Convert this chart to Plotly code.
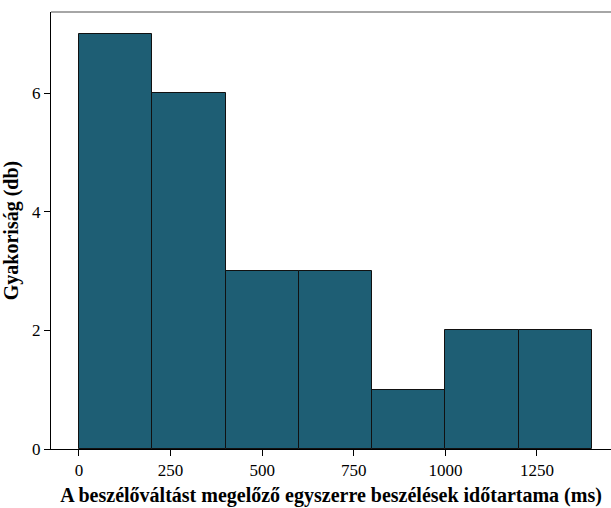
import plotly.graph_objects as go

bin_starts = [0, 200, 400, 600, 800, 1000, 1200]
bin_width = 200
counts = [7, 6, 3, 3, 1, 2, 2]
x_ticks = [0, 250, 500, 750, 1000, 1250]
y_ticks = [0, 2, 4, 6]

centers = [s + bin_width / 2 for s in bin_starts]

fig = go.Figure(go.Bar(
    x=centers, y=counts, width=[bin_width] * len(counts),
    marker=dict(color="#1e5e74", line=dict(color="#111111", width=1)),
))

font = dict(family="Times New Roman, serif", size=17, color="black")
fig.update_layout(
    width=611, height=508,
    margin=dict(l=51, r=0, t=12, b=59),
    plot_bgcolor="white", paper_bgcolor="white",
    showlegend=False, bargap=0,
    font=font,
    xaxis=dict(range=[-76.4, 1452], tickvals=x_ticks, ticks="outside", ticklen=6,
               tickcolor="black", showgrid=False, zeroline=False,
               showline=True, linecolor="black", linewidth=1,
               title=dict(text="<b>A beszélőváltást megelőző egyszerre beszélések időtartama (ms)</b>",
                          font=dict(size=20), standoff=8)),
    yaxis=dict(range=[0, 7.37], tickvals=y_ticks, ticks="outside", ticklen=6,
               tickcolor="black", showgrid=False, zeroline=False,
               showline=True, linecolor="black", linewidth=1,
               title=dict(text="<b>Gyakoriság (db)</b>", font=dict(size=20), standoff=8)),
)
fig.add_shape(type="line", xref="paper", yref="paper", x0=0, x1=1, y0=1, y1=1,
              line=dict(color="#888888", width=1.5))

fig.write_html("out.html")
